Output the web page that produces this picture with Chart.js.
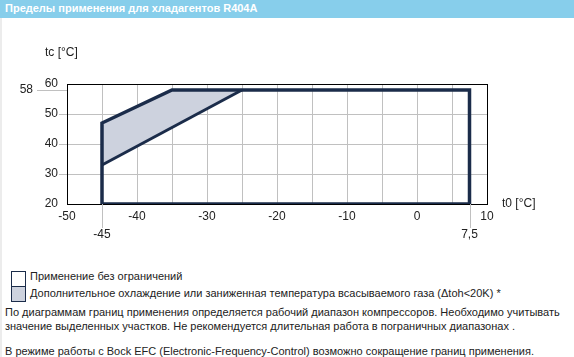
<!DOCTYPE html>
<html><head><meta charset="utf-8">
<script src="https://cdn.jsdelivr.net/npm/chart.js@4"></script>
<style>
html,body{margin:0;padding:0;background:#fff;}
body{width:574px;height:357px;position:relative;overflow:hidden;font-family:"Liberation Sans",Arial,sans-serif;color:#222;}
#bar{position:absolute;left:0;top:0;width:574px;height:18px;background:#87ceeb;}
#bar span{position:absolute;left:5px;top:2px;font-weight:bold;font-size:11px;color:#fff;white-space:nowrap;}
#edge{position:absolute;left:0;top:18px;width:2px;height:339px;background:#ececec;}
#wrap{position:absolute;left:0;top:0;width:574px;height:245px;}
.lg{position:absolute;left:11px;width:13px;height:14px;border:1px solid #1b2c4a;}
.t{position:absolute;white-space:nowrap;font-size:11px;}
</style></head>
<body>
<div id="bar"><span>Пределы применения для хладагентов R404A</span></div>
<div id="edge"></div>
<div id="wrap"><canvas id="c" width="574" height="245"></canvas></div>
<div class="lg" style="top:271px;background:#fff;"></div>
<div class="lg" style="top:286px;background:#cdd2de;"></div>
<div class="t" style="left:30px;top:270px;">Применение без ограничений</div>
<div class="t" style="left:30px;top:287px;">Дополнительное охлаждение или заниженная температура всасываемого газа (Δtoh&lt;20K) *</div>
<div class="t" style="left:5px;top:306px;">По диаграммам границ применения определяется рабочий диапазон компрессоров. Необходимо учитывать</div>
<div class="t" style="left:5px;top:320px;">значение выделенных участков. Не рекомендуется длительная работа в пограничных диапазонах .</div>
<div class="t" style="left:5px;top:345px;">В режиме работы с Bock EFC (Electronic-Frequency-Control) возможно сокращение границ применения.</div>
<script>
// Application envelope (t0 evaporating, tc condensing)
const envelopeT0 = [-45, -45, -35, 7.5, 7.5, -45];
const envelopeTc = [20, 47, 58, 58, 20, 20];
// Zone with additional cooling / reduced suction gas temperature
const zoneT0 = [-45, -35, -25, -45, -45];
const zoneTc = [47, 58, 58, 33, 47];
// Lower boundary of the zone
const zoneEdgeT0 = [-45, -25];
const zoneEdgeTc = [33, 58];
// Axis ranges and special marks
const xMin = -50, xMax = 10, xStep = 5, xLabelStep = 10;
const yMin = 20, yMax = 60, yStep = 10;
const markT0 = [-45, 7.5];
const markT0Labels = ["-45", "7,5"];
const markTc = [58];
const markTcLabels = ["58"];
const xTitle = "t0 [°C]";
const yTitle = "tc [°C]";

const pts = (xs, ys) => xs.map((x, i) => ({x: x, y: ys[i]}));
const LINE = '#1b2c4a';
const FONT = {family: '"Liberation Sans", Arial, sans-serif', size: 12};

const extras = {
  id: 'extras',
  beforeDatasetsDraw(chart) {
    const ctx = chart.ctx, xs = chart.scales.x, ys = chart.scales.y, a = chart.chartArea;
    ctx.save();
    ctx.strokeStyle = '#c0c0c0';
    ctx.lineWidth = 1;
    markT0.forEach(v => {
      const px = Math.round(xs.getPixelForValue(v)) + 0.5;
      ctx.beginPath(); ctx.moveTo(px, a.bottom); ctx.lineTo(px, a.bottom + 24); ctx.stroke();
    });
    markTc.forEach(v => {
      const py = Math.round(ys.getPixelForValue(v)) + 0.5;
      ctx.beginPath(); ctx.moveTo(a.left - 30, py); ctx.lineTo(a.left, py); ctx.stroke();
    });
    ctx.restore();
  },
  afterDraw(chart) {
    const ctx = chart.ctx, xs = chart.scales.x, ys = chart.scales.y, a = chart.chartArea;
    ctx.save();
    ctx.fillStyle = '#222';
    ctx.font = '12px "Liberation Sans", Arial, sans-serif';
    ctx.textBaseline = 'middle';
    ctx.textAlign = 'center';
    markT0.forEach((v, i) => ctx.fillText(markT0Labels[i], xs.getPixelForValue(v), a.bottom + 31));
    ctx.textAlign = 'right';
    markTc.forEach((v, i) => ctx.fillText(markTcLabels[i], a.left - 34, ys.getPixelForValue(v)));
    ctx.textAlign = 'left';
    ctx.fillText(yTitle, 45, a.top - 31);
    ctx.fillText(xTitle, a.right + 15, a.bottom);
    ctx.restore();
  }
};

new Chart(document.getElementById('c'), {
  type: 'scatter',
  data: {
    datasets: [
      {data: pts(zoneT0, zoneTc), showLine: true, fill: 'shape', backgroundColor: '#cdd2de', borderWidth: 0, pointRadius: 0, order: 3},
      {data: pts(zoneEdgeT0, zoneEdgeTc), showLine: true, fill: false, borderColor: LINE, borderWidth: 3, pointRadius: 0, order: 2},
      {data: pts(envelopeT0, envelopeTc), showLine: true, fill: false, borderColor: LINE, borderWidth: 3.5, borderJoinStyle: 'miter', borderCapStyle: 'square', pointRadius: 0, order: 1}
    ]
  },
  options: {
    responsive: false,
    animation: false,
    layout: {padding: {left: 0, right: 87, top: 84, bottom: 0}},
    plugins: {legend: {display: false}, tooltip: {enabled: false}},
    scales: {
      x: {
        type: 'linear', min: xMin, max: xMax,
        afterFit: s => { s.height = 41; },
        border: {display: true, color: '#000', width: 1},
        grid: {
          drawTicks: false,
          color: c => (c.tick && (c.tick.value === xMin || c.tick.value === xMax)) ? '#000' : '#c0c0c0'
        },
        ticks: {stepSize: xStep, autoSkip: false, maxRotation: 0, padding: 5, color: '#222', font: FONT,
          callback: v => (v % xLabelStep === 0 ? String(v) : '')}
      },
      y: {
        type: 'linear', min: yMin, max: yMax,
        afterFit: s => { s.width = 67; },
        border: {display: true, color: '#000', width: 1},
        grid: {
          tickLength: 8,
          color: c => (c.tick && (c.tick.value === yMin || c.tick.value === yMax)) ? '#000' : '#c0c0c0',
          tickColor: c => (c.tick && (c.tick.value === yMin || c.tick.value === yMax)) ? 'rgba(0,0,0,0)' : '#c0c0c0'
        },
        ticks: {stepSize: yStep, padding: 1, color: '#222', font: FONT}
      }
    }
  },
  plugins: [extras]
});
</script>
</body></html>
